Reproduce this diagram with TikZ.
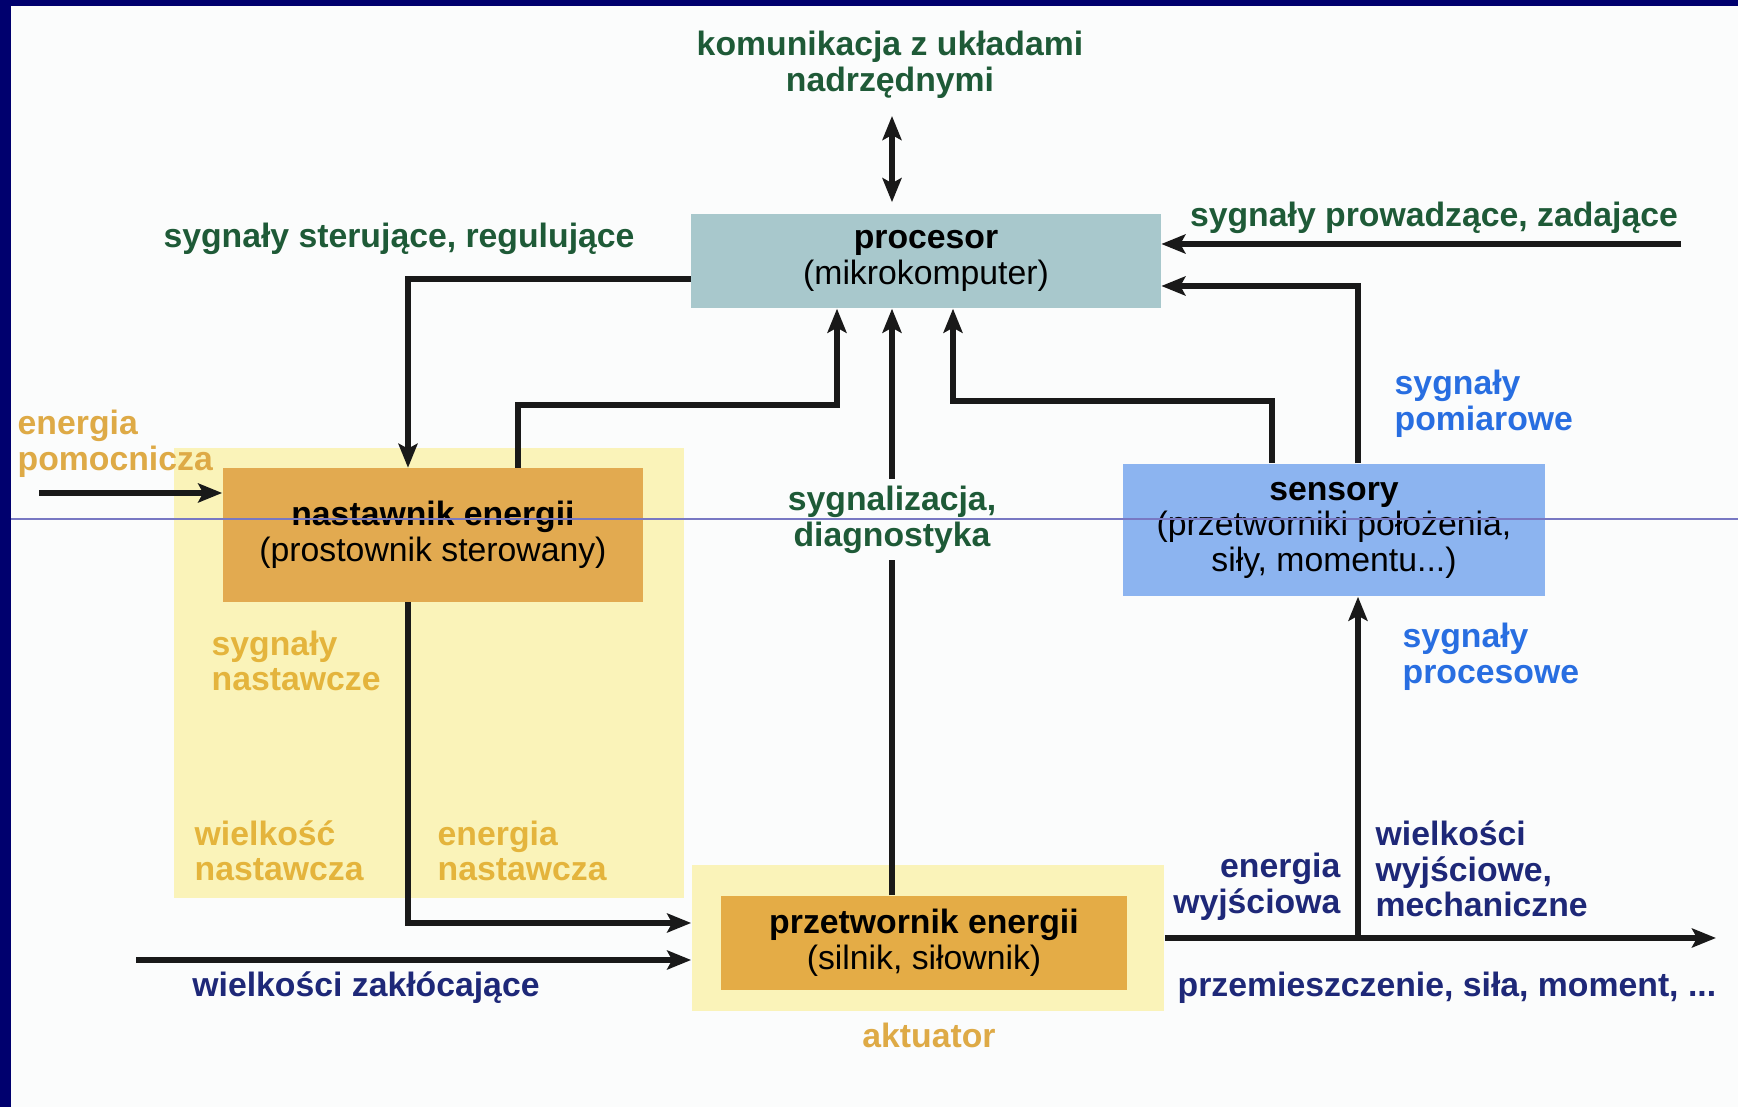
\documentclass[tikz,border=0pt]{standalone}
\usepackage{fontspec}
\setmainfont{Liberation Sans}
\usetikzlibrary{arrows.meta}
\usetikzlibrary{positioning,calc}
\definecolor{frame}{RGB}{0,0,110}
\definecolor{paper}{RGB}{251,252,252}
\definecolor{txtgreen}{RGB}{30,90,55}
\definecolor{txtblue}{RGB}{40,110,225}
\definecolor{txtnavy}{RGB}{30,40,120}
\definecolor{txtorange}{RGB}{222,170,70}
\definecolor{txtyellow}{RGB}{228,180,60}
\definecolor{procfill}{RGB}{168,200,204}
\definecolor{nastfill}{RGB}{226,170,80}
\definecolor{przfill}{RGB}{228,172,70}
\definecolor{sensfill}{RGB}{140,180,240}
\definecolor{palefill}{RGB}{250,243,185}
\definecolor{rule}{RGB}{120,120,195}
\newcommand{\diafont}{\fontsize{9.6}{10.1}\selectfont}
\tikzset{block/.style={inner sep=0pt,align=center,font=\diafont},
         procbox/.style={block,fill=procfill,minimum width=4.69cm,minimum height=0.94cm},
         nastbox/.style={block,fill=nastfill,minimum width=4.2cm,minimum height=1.33cm},
         przbox/.style={block,fill=przfill,minimum width=4.05cm,minimum height=0.94cm},
         sensbox/.style={block,fill=sensfill,minimum width=4.22cm,minimum height=1.32cm},
         zone/.style={inner sep=0pt,fill=palefill},
         lab/.style={inner sep=0pt,font=\diafont\bfseries},
         conn/.style={draw=black!90,line width=1.45pt,-{Stealth[length=2.4mm,width=1.9mm,inset=0.5mm]}},
         both/.style={draw=black!90,line width=1.45pt,{Stealth[length=2.4mm,width=1.9mm,inset=0.5mm]}-{Stealth[length=2.4mm,width=1.9mm,inset=0.5mm]}}}

\begin{document}
\begin{tikzpicture}[x=0.01cm,y=-0.01cm]
\useasboundingbox (0,0) rectangle (1738,1107);
\fill[frame] (0,0) rectangle (1738,1107);
\fill[paper] (11,6) rectangle (1738,1107);

% zones
\node[zone,minimum width=5.09cm,minimum height=4.49cm] (ster) at (429,673) {};
\node[zone,minimum width=4.72cm,minimum height=1.46cm] (akt) at (928,938) {};

% blocks
\node[procbox] (proc) at (926,261) {\textbf{procesor}\\(mikrokomputer)};
\node[nastbox] (nast) at (433,535) {\textbf{nastawnik energii}\\(prostownik sterowany)};
\node[przbox] (prz) at (924,943) {\textbf{przetwornik energii}\\(silnik, siłownik)};
\node[sensbox] (sens) at (1334,530) {\textbf{sensory}\\(przetworniki położenia,\\siły, momentu...)};

% helper points
\coordinate (top) at (892,116);
\coordinate (k1) at (408,279);
\coordinate (k2) at (518,405);
\coordinate (k3) at (837,405);
\coordinate (k4) at (892,0);
\coordinate (k5) at (1272,401);
\coordinate (k6) at (953,401);
\coordinate (k7) at (1358,286);
\coordinate (in1) at (1681,244);
\coordinate (in2) at (39,493);
\coordinate (k8) at (408,923);
\coordinate (in3) at (136,960);
\coordinate (out) at (1716,938);
\coordinate (k9) at (1358,938);

% connectors
\draw[both,shorten >=9pt*0.35] (top) -- (proc.north -| top);
\draw[conn] (proc.west |- k1) -| (nast.north -| k1);
\draw[conn] (nast.north -| k2) |- (k3) -- (proc.south -| k3);
\draw[conn] (prz.north -| k4) -- node[pos=0.64,fill=paper,inner sep=2pt,font=\diafont\bfseries,text=txtgreen,align=center]{sygnalizacja,\\diagnostyka} (proc.south -| k4);
\draw[conn] (sens.north -| k5) |- (k6) -- (proc.south -| k6);
\draw[conn] (sens.north -| k7) |- (proc.east |- k7);
\draw[conn] (in1) -- (proc.east |- in1);
\draw[conn] (in2) -- (nast.west |- in2);
\draw[conn] (nast.south -| k8) |- (akt.west |- k8);
\draw[conn] (in3) -- (akt.west |- in3);
\draw[conn] (akt.east) -- (out);
\draw[conn] (k9) -- (sens.south -| k9);

% labels
\node[lab,text=txtgreen,align=center] (komu) at (890,65) {komunikacja z układami\\nadrzędnymi};
\node[lab,text=txtgreen] (sterl) at (399,239) {sygnały sterujące, regulujące};
\node[lab,text=txtgreen] (prowl) at (1434,218) {sygnały prowadzące, zadające};
\node[lab,text=txtblue,anchor=west,align=left] (pomiar) at (1394,404) {sygnały\\pomiarowe};
\node[lab,text=txtblue,anchor=west,align=left] (proces) at (1402,657) {sygnały\\procesowe};
\node[lab,text=txtorange,anchor=west,align=left] (pomoc) at (17,444) {energia\\pomocnicza};
\node[lab,text=txtyellow,anchor=west,align=left] (nastaw) at (211,661) {sygnały\\nastawcze};
\node[lab,text=txtyellow,anchor=west,align=left] (wnast) at (194,851) {wielkość\\nastawcza};
\node[lab,text=txtyellow,anchor=west,align=left] (enast) at (437,851) {energia\\nastawcza};
\node[lab,text=txtnavy,anchor=east,align=right] (ewyj) at (1341,887) {energia\\wyjściowa};
\node[lab,text=txtnavy,anchor=west,align=left] (wwyj) at (1375,869) {wielkości\\wyjściowe,\\mechaniczne};
\node[lab,text=txtnavy,anchor=west] (przem) at (1177,988) {przemieszczenie, siła, moment, ...};
\node[lab,text=txtnavy] (zakl) at (366,988) {wielkości zakłócające};
\node[lab,text=txtorange] (aktl) at (929,1035) {aktuator};

\draw[rule,line width=0.35pt] (11,519) -- (1738,519);
\end{tikzpicture}
\end{document}
